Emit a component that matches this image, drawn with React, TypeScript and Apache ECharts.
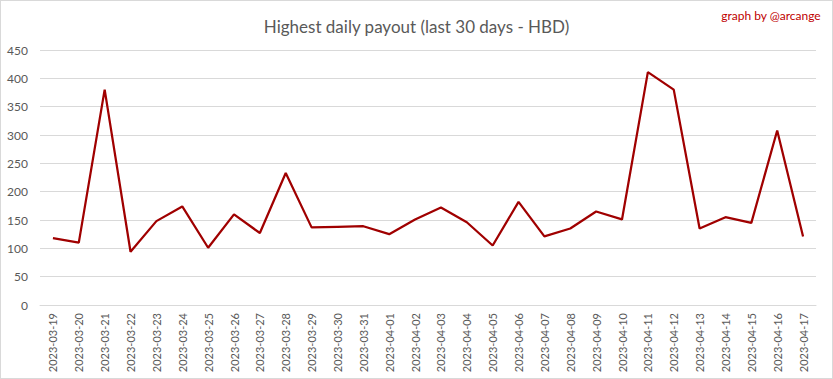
import React, { useEffect, useRef } from "react";
import * as echarts from "echarts";

const categories = [
  "2023-03-19", "2023-03-20", "2023-03-21", "2023-03-22", "2023-03-23", "2023-03-24",
  "2023-03-25", "2023-03-26", "2023-03-27", "2023-03-28", "2023-03-29", "2023-03-30",
  "2023-03-31", "2023-04-01", "2023-04-02", "2023-04-03", "2023-04-04", "2023-04-05",
  "2023-04-06", "2023-04-07", "2023-04-08", "2023-04-09", "2023-04-10", "2023-04-11",
  "2023-04-12", "2023-04-13", "2023-04-14", "2023-04-15", "2023-04-16", "2023-04-17",
];

const payouts = [
  118, 110, 380, 94, 148, 174, 101, 160, 127, 233, 137, 138, 139, 125, 151,
  172, 146, 105, 182, 121, 135, 165, 151, 411, 380, 135, 155, 145, 308, 121,
];

const titleText = "Highest daily payout (last 30 days - HBD)";
const creditText = "graph by @arcange";

export default function App() {
  const ref = useRef<HTMLDivElement>(null);
  useEffect(() => {
    document.body.style.margin = "0";
    if (!ref.current) return;
    const chart = echarts.init(ref.current, null, { renderer: "svg" });
    const font = "Lato, 'Open Sans', sans-serif";
    chart.setOption({
      animation: false,
      backgroundColor: "#ffffff",
      title: {
        text: titleText,
        left: "center",
        top: 12,
        textStyle: { color: "#595959", fontSize: 17, fontWeight: "normal", fontFamily: font },
      },
      graphic: [
        {
          type: "text",
          right: 11,
          top: 8,
          style: { text: creditText, fill: "#c00000", fontSize: 12, fontFamily: font },
        },
      ],
      grid: { left: 39, right: 16, top: 49, bottom: 73, containLabel: false, outerBoundsMode: "none" },
      xAxis: {
        type: "category",
        data: categories,
        boundaryGap: true,
        axisLine: { show: true, lineStyle: { color: "#d9d9d9", width: 1 } },
        axisTick: { show: false },
        axisLabel: {
          rotate: 90,
          interval: 0,
          margin: 8,
          color: "#595959",
          fontSize: 11,
          fontFamily: font,
        },
      },
      yAxis: {
        type: "value",
        min: 0,
        max: 450,
        interval: 50,
        axisLine: { show: false },
        axisTick: { show: false },
        axisLabel: { color: "#595959", fontSize: 12, fontFamily: font, margin: 12 },
        splitLine: { lineStyle: { color: "#d9d9d9", width: 1 } },
      },
      series: [
        {
          type: "line",
          data: payouts,
          symbol: "none",
          lineStyle: { color: "#a00000", width: 2.25 },
          itemStyle: { color: "#a00000" },
        },
      ],
    });
    return () => chart.dispose();
  }, []);
  return (
    <div
      ref={ref}
      style={{ width: 833, height: 379, boxSizing: "border-box", border: "1px solid #d9d9d9" }}
    />
  );
}
